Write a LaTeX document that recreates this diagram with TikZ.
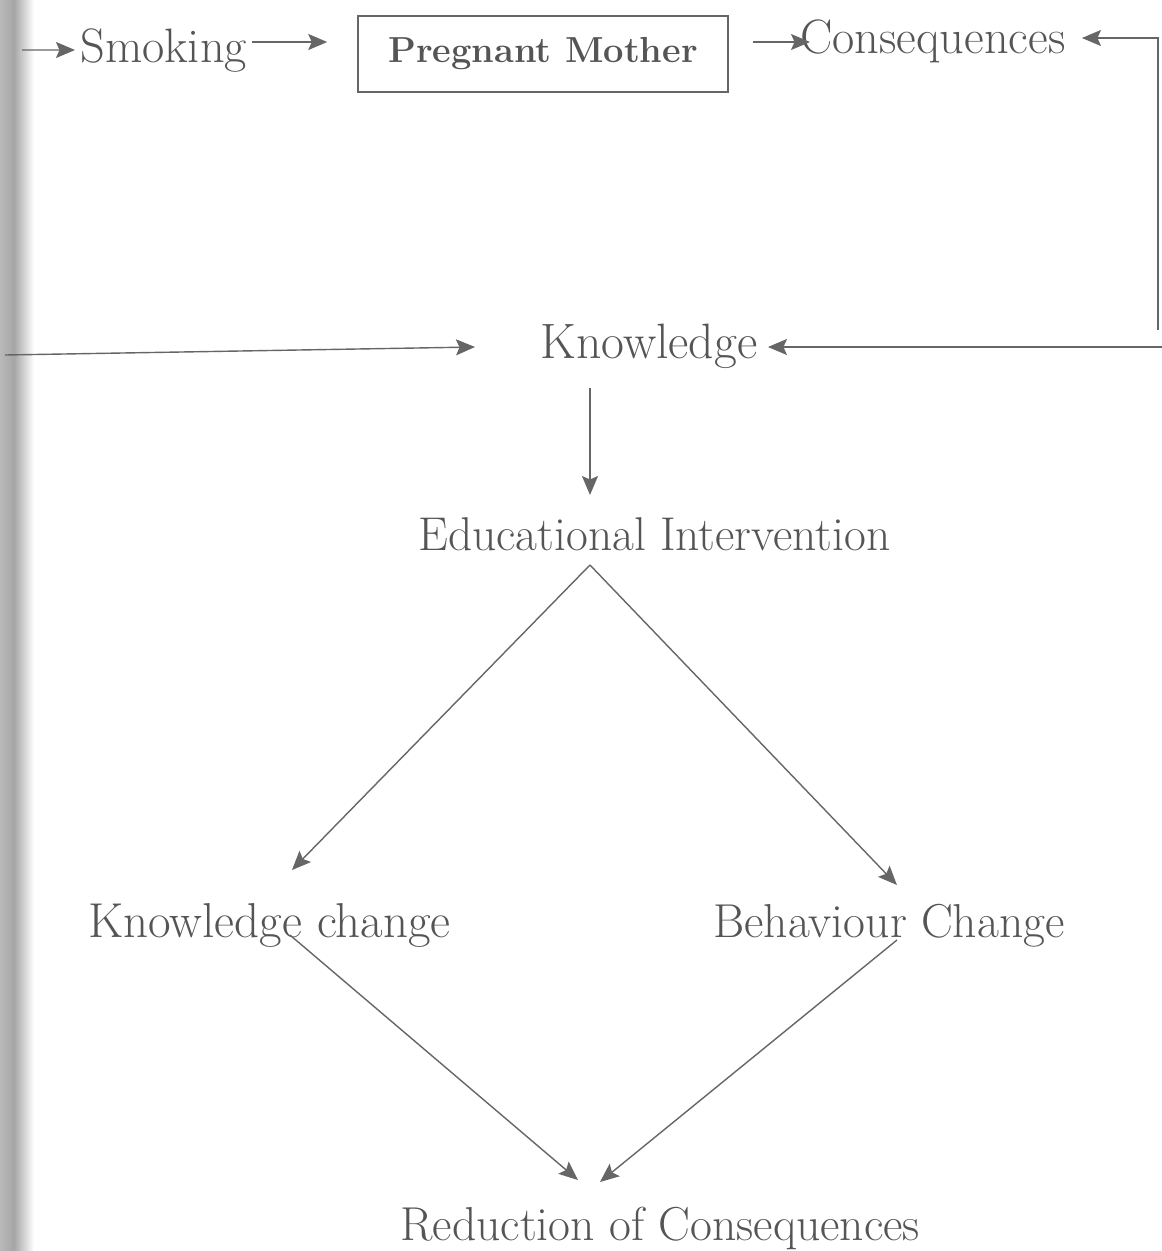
\documentclass[tikz,border=0pt]{standalone}
\usepackage{fontspec}
\usetikzlibrary{arrows.meta,calc}
\definecolor{ink}{HTML}{555555}
\definecolor{lineink}{HTML}{666666}
\tikzset{
  lbl/.style={inner sep=0pt, anchor=base west, text=ink, font=\fontsize{#1}{32}\selectfont},
  lbl/.default=27.5,
  boxed/.style={draw=lineink, line width=0.9pt, inner sep=0pt, minimum width=7.4cm, minimum height=1.52cm,
    text=ink, font=\bfseries\fontsize{20.6}{24}\selectfont},
  arr/.style={draw=lineink, line width=0.8pt, -{Stealth[length=0.38cm,width=0.32cm,inset=0.07cm]}},
  ln/.style={draw=lineink, line width=0.8pt}
}
\begin{document}
\begin{tikzpicture}[x=0.02cm,y=-0.02cm]
\useasboundingbox (0,0) rectangle (1162,1251);
% scan shadow at the left edge
\shade[left color=gray!55, right color=gray!70] (0,0) rectangle (14,1251);
\shade[left color=gray!70, right color=white] (14,0) rectangle (34,1251);

% nodes
\node[lbl] (smoking) at (80,62) {Smoking};
\node[boxed] (box) at (543,54) {Pregnant Mother};
\node[lbl] (cons) at (800,53) {Consequences};
\node[lbl=28.3] (know) at (540,358) {Knowledge};
\node[lbl=27] (edu) at (418,550) {Educational Intervention};
\node[lbl=27.9] (kc) at (88,937) {Knowledge change};
\node[lbl=27.1] (bc) at (713,937) {Behaviour Change};
\node[lbl=27.1] (red) at (400,1240) {Reduction of Consequences};

% free ends
\coordinate (lin) at (22,50);
\coordinate (r1) at (1158,38);
\coordinate (r2) at (1158,330);
\coordinate (r3) at (1162,347);
\coordinate (l2) at (5,355);

% top row
\draw[arr] (lin) -- ([xshift=-0.1cm,yshift=0.24cm]smoking.base west);
\coordinate (s2) at ([xshift=3.44cm,yshift=0.4cm]smoking.base west);
\draw[arr, shorten >=0.6cm] (s2) -- (s2 -| box.west);
\coordinate (b3) at ([xshift=0.48cm,yshift=0.24cm]box.east);
\draw[arr, shorten >=-0.2cm] (b3) -- (b3 -| cons.base west);

% feedback loop on the right
\draw[arr, shorten >=5.64cm] (r2) -- (r1) -- (r1 -| cons.base west);
\draw[arr, shorten >=4.56cm] (r3) -- (r3 -| know.base west);

% from the left into Knowledge
\draw[arr] (l2) -- ([xshift=-1.3cm,yshift=0.22cm]know.base west);

% Knowledge -> Educational Intervention
\coordinate (k1) at ([xshift=1cm,yshift=-0.6cm]know.base west);
\draw[arr, shorten >=1.1cm] (k1) -- (k1 |- edu.base west);

% diamond
\coordinate (apex) at ([xshift=3.44cm,yshift=-0.3cm]edu.base west);
\draw[arr] (apex) -- ([xshift=4.08cm,yshift=1.34cm]kc.base west);
\draw[arr] (apex) -- ([xshift=3.68cm,yshift=1.04cm]bc.base west);
\draw[arr] ([xshift=4.04cm,yshift=0.04cm]kc.base west) -- ([xshift=3.56cm,yshift=1.2cm]red.base west);
\draw[arr] ([xshift=3.68cm,yshift=-0.06cm]bc.base west) -- ([xshift=4cm,yshift=1.16cm]red.base west);
\end{tikzpicture}
\end{document}
